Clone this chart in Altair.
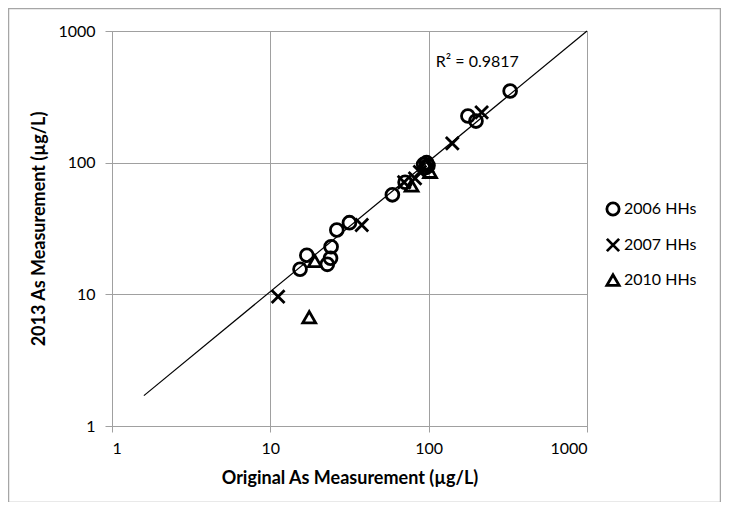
import altair as alt
import pandas as pd

# ---- data ----
x_2006 = [327, 177, 199, 93, 97, 99, 96, 71, 59, 31.6, 26.3, 24.2, 24.0, 22.9, 17.0, 15.4]
y_2006 = [350, 226, 207, 97, 100, 95, 92, 71, 57, 35.0, 30.8, 23.0, 18.8, 16.9, 19.8, 15.5]

x_2007 = [216, 141, 37.8, 11.2, 82, 88, 70]
y_2007 = [241, 140, 33.6, 9.6, 76, 85, 71]

x_2010 = [17.6, 19.1, 78, 102, 96]
y_2010 = [6.7, 17.9, 67, 85, 96]

series = ["2006 HHs", "2007 HHs", "2010 HHs"]
fit_x = [1.59, 1000]
fit_y = [1.7, 1000]
r2_label = "R² = 0.9817"
ticks = [1, 10, 100, 1000]

rows = []
for name, xs, ys in zip(series, [x_2006, x_2007, x_2010], [y_2006, y_2007, y_2010]):
    for a, b in zip(xs, ys):
        rows.append({"orig": a, "y2013": b, "group": name})
pts = pd.DataFrame(rows)
fit = pd.DataFrame({"orig": fit_x, "y2013": fit_y})
lab = pd.DataFrame({"orig": [111], "y2013": [580], "t": [r2_label]})

FONT = "Lato"
cross_path = "M-1,-1L1,1M1,-1L-1,1"

xscale = alt.Scale(type="log", domain=[1, 1000], nice=False)
yscale = alt.Scale(type="log", domain=[1, 1000], nice=False)

xaxis = alt.Axis(values=ticks, format="d", title="Original As Measurement (µg/L)",
                 grid=True, tickSize=6, labelPadding=8, titlePadding=13)
yaxis = alt.Axis(values=ticks, format="d", title="2013 As Measurement (µg/L)",
                 grid=True, tickSize=7, labelPadding=10, titlePadding=9)

points = alt.Chart(pts).mark_point(filled=False, strokeWidth=2.8, size=165, opacity=1).encode(
    x=alt.X("orig:Q", scale=xscale, axis=xaxis),
    y=alt.Y("y2013:Q", scale=yscale, axis=yaxis),
    shape=alt.Shape("group:N",
                    scale=alt.Scale(domain=series, range=["circle", cross_path, "triangle-up"]),
                    legend=alt.Legend(title=None, orient="none", legendX=493, legendY=170,
                                      padding=0, rowPadding=12, symbolSize=150,
                                      symbolStrokeWidth=2.8, symbolStrokeColor="black",
                                      symbolFillColor="transparent",
                                      labelFont=FONT, labelFontSize=16, labelColor="black",
                                      labelOffset=3)),
    color=alt.value("black"),
)

line = alt.Chart(fit).mark_line(color="black", strokeWidth=1.2).encode(
    x=alt.X("orig:Q", scale=xscale),
    y=alt.Y("y2013:Q", scale=yscale),
)

text = alt.Chart(lab).mark_text(align="left", baseline="middle", font=FONT, fontSize=16,
                                color="black").encode(
    x=alt.X("orig:Q", scale=xscale),
    y=alt.Y("y2013:Q", scale=yscale),
    text="t:N",
)

frame = alt.Chart(lab).mark_rect(fill=None, stroke="#a6a6a6", strokeWidth=1.5).encode(
    x=alt.value(-103.5), x2=alt.value(608.5), y=alt.value(-22.5), y2=alt.value(471.5)
)

chart = alt.layer(frame, line, points, text).properties(
    width=475, height=395,
    autosize=alt.AutoSizeParams(type="none"),
    padding={"left": 104, "top": 23, "right": 134, "bottom": 76},
    background="white",
).configure_view(stroke="#a0a0a0", strokeWidth=1).configure_axis(
    gridColor="#a0a0a0", gridWidth=1, domainColor="#a0a0a0", tickColor="#a0a0a0",
    labelFont=FONT, labelFontSize=16, labelColor="black",
    titleFont=FONT, titleFontSize=18, titleFontWeight="bold", titleColor="black",
)

chart.save("out.html", embed_options={"renderer": "svg", "actions": False})
